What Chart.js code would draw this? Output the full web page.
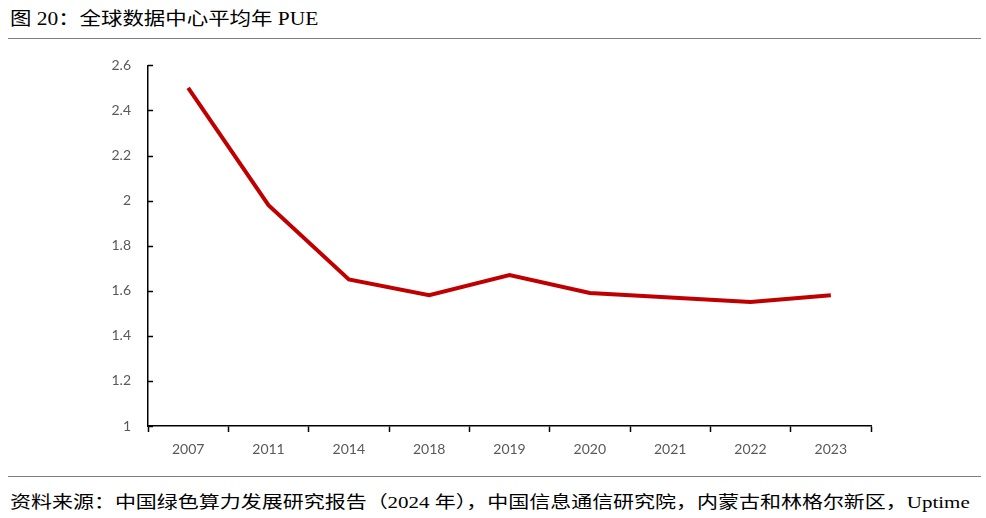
<!DOCTYPE html>
<html>
<head>
<meta charset="utf-8">
<script src="https://cdn.jsdelivr.net/npm/chart.js@4"></script>
<style>
  body { margin: 0; width: 986px; height: 518px; background: #fff; position: relative; overflow: hidden; }
  .title { position: absolute; left: 10px; top: 4px; font-size: 18px; color: #000; white-space: nowrap;
    font-family: "Times New Roman", "Liberation Serif", "Noto Sans CJK SC", serif;
    transform: scaleX(1.19); transform-origin: left center; }
  .rule { position: absolute; left: 8px; width: 973px; height: 0; border-top: 1.5px solid #808080; }
  .source { position: absolute; left: 10px; top: 488px; font-size: 17px; color: #000; white-space: nowrap;
    font-family: "Times New Roman", "Liberation Serif", "Noto Sans CJK SC", serif;
    transform: scaleX(1.234); transform-origin: left center; }
  #wrap { position: absolute; left: 0; top: 40px; width: 986px; height: 430px; }
</style>
</head>
<body>
<div class="title">图 20：全球数据中心平均年 PUE</div>
<div class="rule" style="top:38px"></div>
<div id="wrap"><canvas id="chart"></canvas></div>
<div class="rule" style="top:476px"></div>
<div class="source">资料来源：中国绿色算力发展研究报告（2024 年），中国信息通信研究院，内蒙古和林格尔新区，Uptime</div>

<script>
// year labels and PUE readings
const years = ['2007', '2011', '2014', '2018', '2019', '2020', '2021', '2022', '2023'];
const pue = [2.5, 1.98, 1.65, 1.58, 1.67, 1.59, 1.57, 1.55, 1.58];
const yMin = 1;
const yMax = 2.6;
const yStep = 0.2;

// y-axis ticks point inward in the original, draw them by hand
const innerTicks = {
  id: 'innerTicks',
  afterDraw(chart) {
    const y = chart.scales.y;
    const ctx = chart.ctx;
    ctx.save();
    ctx.strokeStyle = '#000';
    ctx.lineWidth = 1.5;
    y.ticks.forEach(t => {
      const py = Math.round(y.getPixelForValue(t.value)) + 0.5;
      ctx.beginPath();
      ctx.moveTo(y.right, py);
      ctx.lineTo(y.right + 5, py);
      ctx.stroke();
    });
    ctx.restore();
  }
};

new Chart(document.getElementById('chart'), {
  type: 'line',
  data: {
    labels: years,
    datasets: [{
      data: pue,
      borderColor: '#C00000',
      borderWidth: 4,
      pointRadius: 0,
      tension: 0,
      fill: false
    }]
  },
  options: {
    responsive: true,
    maintainAspectRatio: false,
    animation: false,
    layout: { padding: { top: 22, right: 115, left: 0, bottom: 0 } },
    plugins: { legend: { display: false }, tooltip: { enabled: false } },
    scales: {
      x: {
        offset: true,
        grid: { offset: true, drawOnChartArea: false, drawTicks: true, tickLength: 6, color: '#000', tickWidth: 1.5 },
        border: { color: '#000', width: 1.5 },
        ticks: { color: '#595959', font: { family: 'Lato', size: 14 }, padding: 9, maxRotation: 0 },
        afterFit(s) { s.height = 44; }
      },
      y: {
        min: yMin,
        max: yMax,
        grid: { drawOnChartArea: false, drawTicks: false },
        border: { color: '#000', width: 1.5 },
        ticks: {
          stepSize: yStep,
          color: '#595959',
          font: { family: 'Lato', size: 14 },
          padding: 17,
          callback: v => String(+v.toFixed(1))
        },
        afterFit(s) { s.width = 148; }
      }
    }
  },
  plugins: [innerTicks]
});
</script>
</body>
</html>
